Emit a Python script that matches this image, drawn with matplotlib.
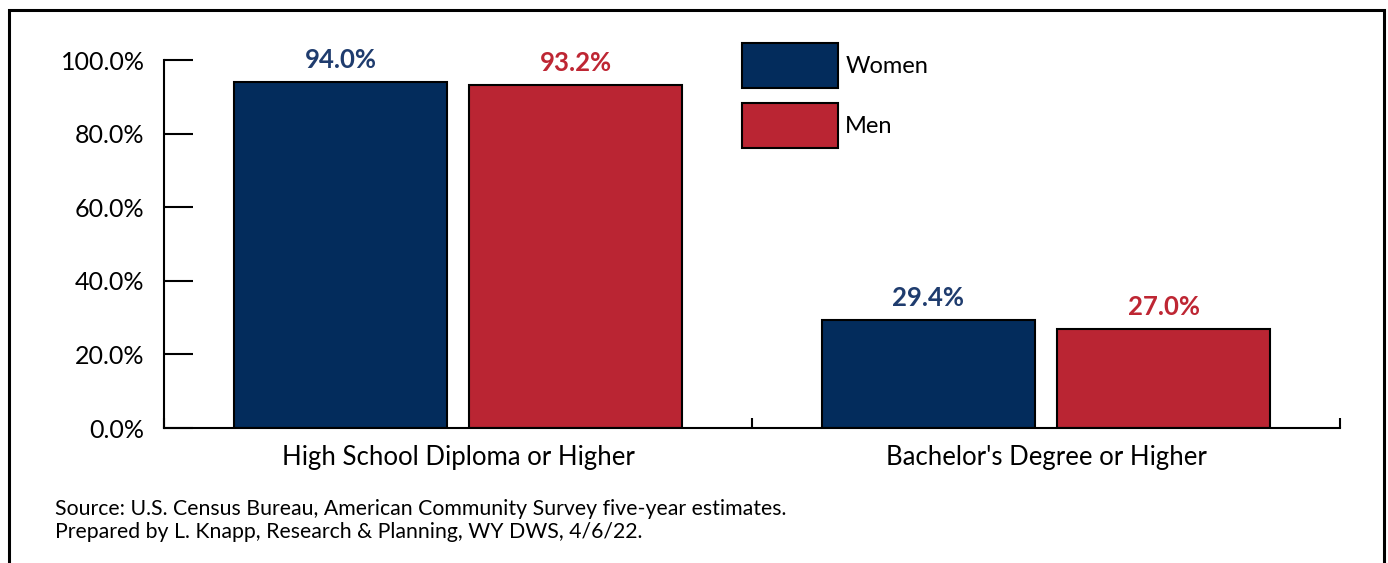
import matplotlib
matplotlib.use("Agg")
import matplotlib.pyplot as plt
from matplotlib.patches import Rectangle
from matplotlib.ticker import FuncFormatter
import numpy as np

categories = ["High School Diploma or Higher", "Bachelor's Degree or Higher"]
series_names = ["Women", "Men"]
women = [94.0, 29.4]
men = [93.2, 27.0]
yticks = [0, 20, 40, 60, 80, 100]

bar_colors = ["#032C5C", "#BA2533"]
label_colors = ["#1F3C6E", "#BE2633"]

plt.rcParams['font.family'] = ['Lato', 'DejaVu Sans']

fig = plt.figure(figsize=(13.88, 5.63), dpi=100)
ax = fig.add_axes([164/1388, 1-428/563, (1340-164)/1388, (428-60)/563])

x = np.arange(len(categories))
width = 0.362
offset = 0.2
for i, (vals, name) in enumerate(zip([women, men], series_names)):
    pos = x + (-offset if i == 0 else offset)
    bars = ax.bar(pos, vals, width, color=bar_colors[i], edgecolor='black',
                  linewidth=1.5, label=name, zorder=2)
    for b, v in zip(bars, vals):
        ax.annotate(f"{v:.1f}%", (b.get_x() + b.get_width()/2, v),
                    xytext=(0, 7), textcoords='offset points', ha='center', va='bottom',
                    fontsize=18.5, fontweight='bold', color=label_colors[i])

ax.set_xlim(-0.5, 1.5)
ax.set_ylim(0, 100)
ax.set_yticks(yticks)
ax.yaxis.set_major_formatter(FuncFormatter(lambda v, p: f"{v:.1f}%"))
ax.tick_params(axis='y', direction='in', length=21, width=1.5, labelsize=18, pad=14)
ax.set_xticks(x)
ax.set_xticklabels(categories, fontsize=18.5)
ax.set_xticks([-0.5, 0.5, 1.5], minor=True)
ax.tick_params(axis='x', which='major', length=0, pad=12)
ax.tick_params(axis='x', which='minor', direction='in', length=7, width=1.5)
for s in ['top', 'right']:
    ax.spines[s].set_visible(False)
for s in ['left', 'bottom']:
    ax.spines[s].set_linewidth(1.5)

leg = ax.legend(loc='upper left', bbox_to_anchor=(578/1176, 1 + 17/368), frameon=False,
                fontsize=17, handlelength=4.07, handleheight=2.556,
                labelspacing=0.63, handletextpad=0.3, borderaxespad=0, borderpad=0)

fig.text(55/1388, 1-509/563, "Source: U.S. Census Bureau, American Community Survey five-year estimates.",
         fontsize=15.3, va='center', ha='left')
fig.text(55/1388, 1-532/563, "Prepared by L. Knapp, Research & Planning, WY DWS, 4/6/22.",
         fontsize=15.3, va='center', ha='left')

fig.patches.append(Rectangle((9/1388, -0.05), (1384-9)/1388, 1.05 - 10/563,
                             transform=fig.transFigure, fill=False, edgecolor='black',
                             linewidth=2.2))

fig.savefig("out.png", dpi=100)
